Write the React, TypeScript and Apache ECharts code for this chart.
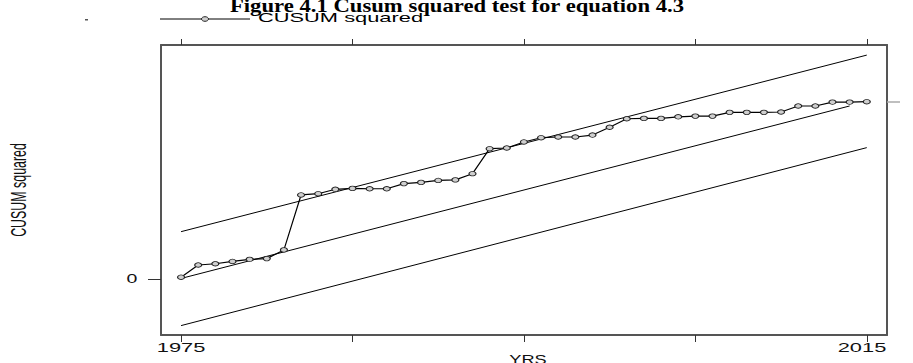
import React, { useEffect, useRef } from "react";
import * as echarts from "echarts";

const years = [
  1975, 1976, 1977, 1978, 1979, 1980, 1981, 1982, 1983, 1984,
  1985, 1986, 1987, 1988, 1989, 1990, 1991, 1992, 1993, 1994,
  1995, 1996, 1997, 1998, 1999, 2000, 2001, 2002, 2003, 2004,
  2005, 2006, 2007, 2008, 2009, 2010, 2011, 2012, 2013, 2014, 2015,
];
const cusumSquared = [
  0.01, 0.079, 0.086, 0.099, 0.111, 0.115, 0.164, 0.474, 0.481, 0.506,
  0.511, 0.509, 0.509, 0.538, 0.545, 0.556, 0.559, 0.594, 0.735, 0.739,
  0.773, 0.797, 0.801, 0.801, 0.812, 0.856, 0.904, 0.906, 0.906, 0.915,
  0.919, 0.919, 0.94, 0.94, 0.94, 0.942, 0.976, 0.976, 0.998, 0.998, 1.0,
];
const upperBand = [[1975, 0.267], [2015, 1.263]];
const expectedLine = [[1975, 0.003], [2014, 0.976]];
const lowerBand = [[1975, -0.263], [2015, 0.741]];

const xTickYears = [1975, 1985, 1995, 2005, 2015];
const xLabelYears = [1975, 2015];
const yLeftTicks = [0];
const yRightTicks = [1];

const titleText = "Figure 4.1 Cusum squared test for equation 4.3";
const seriesName = "CUSUM squared";
const xAxisName = "YRS";
const yAxisName = "CUSUM squared";

const SANS = "'Liberation Sans', Arial, sans-serif";
const SERIF = "'Liberation Serif', 'Times New Roman', serif";

export default function App() {
  const ref = useRef<HTMLDivElement>(null);
  useEffect(() => {
    const chart = echarts.init(ref.current!, null, { renderer: "svg" });
    const X_MIN = 1973.83, X_MAX = 2016.18, Y_MIN = -0.316, Y_MAX = 1.32;
    const axisLine = { show: true, onZero: false, lineStyle: { color: "#555", width: 2 } };
    const tickStyle = { color: "#333", width: 1 };
    const common = { type: "value", splitLine: { show: false }, axisLabel: { show: false } };
    chart.setOption({
      animation: false,
      grid: { left: 161, top: 45, right: 26, bottom: 28, containLabel: false, outerBoundsMode: "none" },
      xAxis: [
        { ...common, position: "bottom", min: X_MIN, max: X_MAX, axisLine,
          axisTick: { show: true, length: 7, customValues: xTickYears, lineStyle: tickStyle } },
        { ...common, position: "top", min: X_MIN, max: X_MAX, axisLine,
          axisTick: { show: true, length: 6, customValues: xTickYears, lineStyle: tickStyle } },
      ],
      yAxis: [
        { ...common, position: "left", min: Y_MIN, max: Y_MAX, axisLine,
          axisTick: { show: true, length: 13, customValues: yLeftTicks, lineStyle: tickStyle } },
        { ...common, position: "right", min: Y_MIN, max: Y_MAX, axisLine,
          axisTick: { show: true, length: 13, customValues: yRightTicks, lineStyle: { color: "#aaa", width: 1.5 } } },
      ],
      series: [
        { type: "line", data: upperBand, symbol: "none", lineStyle: { color: "#000", width: 1 }, silent: true },
        { type: "line", data: expectedLine, symbol: "none", lineStyle: { color: "#000", width: 1 }, silent: true },
        { type: "line", data: lowerBand, symbol: "none", lineStyle: { color: "#000", width: 1 }, silent: true },
        {
          type: "line", name: seriesName,
          data: years.map((y, i) => [y, cusumSquared[i]]),
          symbol: "circle", symbolSize: [7, 4.5], showAllSymbol: true,
          itemStyle: { color: "#cfcfcf", borderColor: "#222", borderWidth: 1 },
          lineStyle: { color: "#000", width: 1.2 },
        },
      ],
    });

    const px = (v: number) => chart.convertToPixel({ xAxisIndex: 0 }, v) as number;
    const py = (v: number) => chart.convertToPixel({ yAxisIndex: 0 }, v) as number;
    const rightEdge = px(X_MAX);

    const graphics: any[] = [
      {
        type: "text", x: 457, y: 5.5, scaleX: 1.26,
        style: { text: titleText, font: `bold 18px ${SERIF}`, fill: "#000", align: "center", verticalAlign: "middle", textAlign: "center", textVerticalAlign: "middle" },
      },
      { type: "line", shape: { x1: 160, y1: 19, x2: 250, y2: 19 }, style: { stroke: "#000", lineWidth: 1 } },
      { type: "ellipse", shape: { cx: 205, cy: 19, rx: 3.5, ry: 2.3 }, style: { stroke: "#222", fill: "#cfcfcf", lineWidth: 1 } },
      {
        type: "text", x: 258, y: 18, scaleX: 1.68,
        style: { text: seriesName, font: `13px ${SANS}`, fill: "#000", align: "left", verticalAlign: "middle", textAlign: "left", textVerticalAlign: "middle" },
      },
      {
        type: "text", x: 19, y: 190, rotation: Math.PI / 2, scaleY: 1.8,
        style: { text: yAxisName, font: `12.4px ${SANS}`, fill: "#111", align: "center", verticalAlign: "middle", textAlign: "center", textVerticalAlign: "middle" },
      },
      {
        type: "text", x: 528, y: 359, scaleX: 1.4,
        style: { text: xAxisName, font: `13px ${SANS}`, fill: "#111", align: "center", verticalAlign: "middle", textAlign: "center", textVerticalAlign: "middle" },
      },
      { type: "rect", shape: { x: 85, y: 19, width: 3, height: 1.5 }, style: { fill: "#555" } },
    ];
    yLeftTicks.forEach((v) => {
      graphics.push({
        type: "text", x: 132, y: py(v), scaleX: 1.5,
        style: { text: String(v), font: `13px ${SANS}`, fill: "#111", align: "center", verticalAlign: "middle", textAlign: "center", textVerticalAlign: "middle" },
      });
    });
    xLabelYears.forEach((yr) => {
      const half = 25;
      const x = Math.min(px(yr), rightEdge - half);
      graphics.push({
        type: "text", x, y: 348, scaleX: 1.68,
        style: { text: String(yr), font: `13px ${SANS}`, fill: "#111", align: "center", verticalAlign: "middle", textAlign: "center", textVerticalAlign: "middle" },
      });
    });
    chart.setOption({ graphic: graphics });

    return () => chart.dispose();
  }, []);
  return <div ref={ref} style={{ position: "fixed", left: 0, top: 0, width: 913, height: 363, background: "#fff" }} />;
}
